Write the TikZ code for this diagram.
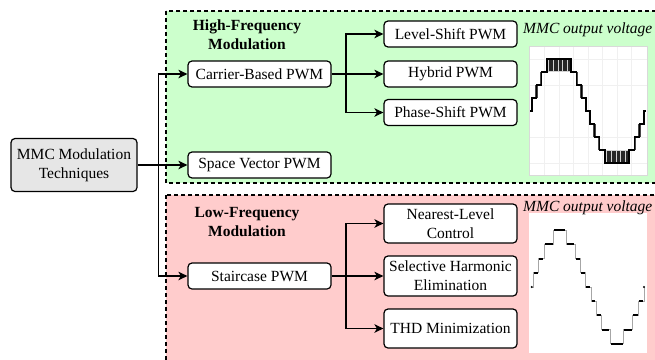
\documentclass[tikz,border=0pt]{standalone}
\usepackage{fontspec}
\setmainfont{Liberation Serif}
\usetikzlibrary{arrows.meta}
\definecolor{hfgreen}{HTML}{CCFFCC}
\definecolor{lfred}{HTML}{FFCCCC}
\definecolor{mmcgray}{HTML}{E6E6E6}
\begin{document}
\begin{tikzpicture}[x=1pt,y=-1pt,
  txt/.style={font=\fontsize{15.5}{18.8}\selectfont},
  box/.style={txt, draw=black, line width=1.2pt, rounded corners=4pt, fill=white, align=center, inner sep=0pt},
  arr/.style={line width=1.4pt, -{Stealth[length=9pt,width=8.5pt,inset=2.5pt]}},
  ln/.style={line width=1.4pt},
  region/.style={draw=black, line width=1.2pt, dash pattern=on 4pt off 3pt},
  grp/.style={txt, font=\fontsize{15.5}{18.8}\selectfont\bfseries, align=center},
  capt/.style={txt, font=\fontsize{15.5}{18.8}\selectfont\itshape, anchor=west, inner sep=0pt},
  stepU/.style={line width=1.3pt, black},
  band/.style={gray!55!black},
  gridl/.style={gray!12, line width=0.4pt},
  stepL/.style={gray!70, line width=0.8pt},
  stepLh/.style={black, line width=2pt}
]
\useasboundingbox (0,0) rectangle (655,359);
% regions
\begin{scope}
  \clip (0,0) rectangle (655,359);
  \draw[region, fill=hfgreen] (166,11) rectangle (680,183);
  \draw[region, fill=lfred] (166,195) rectangle (680,380);
\end{scope}

% group labels
\node[grp] (hf) at (247,35) {High-Frequency\\Modulation};
\node[grp] (lf) at (247,222) {Low-Frequency\\Modulation};

% nodes
\node[box, fill=mmcgray, minimum width=126pt, minimum height=53pt] (mmc) at (74,165) {MMC Modulation\\Techniques};
\node[box, minimum width=143pt, minimum height=26pt] (carrier) at (259.5,74) {Carrier-Based PWM};
\node[box, minimum width=143pt, minimum height=26pt] (sv) at (259.5,165) {Space Vector PWM};
\node[box, minimum width=143pt, minimum height=26pt] (stair) at (259.5,276) {Staircase PWM};
\node[box, minimum width=133pt, minimum height=26pt] (ls) at (450.5,34) {Level-Shift PWM};
\node[box, minimum width=133pt, minimum height=26pt] (hyb) at (450.5,74) {Hybrid PWM};
\node[box, minimum width=133pt, minimum height=26pt] (ps) at (450.5,112.5) {Phase-Shift PWM};
\node[box, minimum width=133pt, minimum height=39pt] (nlc) at (450.5,223.5) {Nearest-Level\\Control};
\node[box, minimum width=133pt, minimum height=40pt] (she) at (450.5,276) {Selective Harmonic\\Elimination};
\node[box, minimum width=133pt, minimum height=39pt] (thd) at (450.5,328.5) {THD Minimization};

% connectors
\coordinate (j1) at (158.5,165);
\coordinate (j2) at (346,74);
\coordinate (j3) at (346,276);
\draw[arr] (mmc.east) -- (sv.west);
\draw[arr] (j1) |- (carrier.west);
\draw[arr] (j1) |- (stair.west);
\draw[ln] (carrier.east) -- (j2);
\draw[arr] (j2) |- (ls.west);
\draw[arr] (j2) -- (hyb.west);
\draw[arr] (j2) |- (ps.west);
\draw[ln] (stair.east) -- (j3);
\draw[arr] (j3) |- (nlc.west);
\draw[arr] (j3) -- (she.west);
\draw[arr] (j3) |- (thd.west);

% upper plot
\draw[gray!30, line width=0.8pt, fill=white] (529,46) rectangle (647,175);
\foreach \yy in {59,85,137,163} \draw[gridl] (529.5,\yy) -- (646.5,\yy);
\foreach \xx in {544.5,559,573.5,588,602.5,617,631.5} \draw[gridl] (\xx,46.5) -- (\xx,174.5);
% pwm bands at transitions
\foreach \xx/\ya/\yb in {532.1/111/98, 536.4/98/85, 541.2/85/72, 576.8/72/85, 581.6/85/98, 585.9/98/111, 590.1/111/124, 594.4/124/137, 599.2/137/150, 634.8/150/137, 639.6/137/124, 643.9/124/111}
  \fill[band] (\xx-1.2,\ya) rectangle (\xx+1.2,\yb);
% blocks
\fill[gray!35] (547,59) rectangle (571,72);
\foreach \i in {0,...,18} \draw[gray!30!black, line width=0.55pt] (547.5+\i*1.28,59) -- ++(0,12);
\fill[gray!35] (605,150) rectangle (629,163);
\foreach \i in {0,...,18} \draw[gray!30!black, line width=0.55pt] (605.5+\i*1.28,151) -- ++(0,12);
\draw[stepU] (530,111) -- (532.1,111) -- (532.1,98) -- (536.4,98) -- (536.4,85) -- (541.2,85) -- (541.2,72) -- (547,72) -- (547,59) -- (571,59) -- (571,72) -- (576.8,72) -- (576.8,85) -- (581.6,85) -- (581.6,98) -- (585.9,98) -- (585.9,111) -- (590.1,111) -- (590.1,124) -- (594.4,124) -- (594.4,137) -- (599.2,137) -- (599.2,150) -- (605,150) -- (605,163) -- (629,163) -- (629,150) -- (634.8,150) -- (634.8,137) -- (639.6,137) -- (639.6,124) -- (643.9,124) -- (643.9,111) -- (646,111);

% lower plot
\fill[white] (529,213) rectangle (647,353);
\draw[stepL] (531.7,287) -- (533.3,287) -- (533.3,272.8) -- (538.3,272.8) -- (538.3,258.6) -- (544,258.6) -- (544,244.4) -- (553.3,244.4) -- (553.3,230.2) -- (566,230.2) -- (566,244.4) -- (575,244.4) -- (575,258.6) -- (580.7,258.6) -- (580.7,272.8) -- (585.7,272.8) -- (585.7,287) -- (591,287) -- (591,301.2) -- (596,301.2) -- (596,315.4) -- (601.7,315.4) -- (601.7,329.6) -- (610,329.6) -- (610,343.8) -- (623.3,343.8) -- (623.3,329.6) -- (632.3,329.6) -- (632.3,315.4) -- (638.3,315.4) -- (638.3,301.2) -- (644,301.2) -- (644,287);
\foreach \xa/\xb/\yy in {533.3/538.3/272.8, 538.3/544/258.6, 544/553.3/244.4, 553.3/566/230.2, 566/575/244.4, 575/580.7/258.6, 580.7/585.7/272.8, 585.7/591/287, 591/596/301.2, 596/601.7/315.4, 601.7/610/329.6, 610/623.3/343.8, 623.3/632.3/329.6, 632.3/638.3/315.4, 638.3/644/301.2}
  \draw[stepLh] (\xa+0.6,\yy) -- (\xb-0.6,\yy);
\fill (531.7,287) circle (1.1pt);
\fill (644,287) circle (1.1pt);

% captions
\node[capt] (c1) at (523,30) {MMC output voltage};
\node[capt] (c2) at (523,208) {MMC output voltage};
\end{tikzpicture}
\end{document}
